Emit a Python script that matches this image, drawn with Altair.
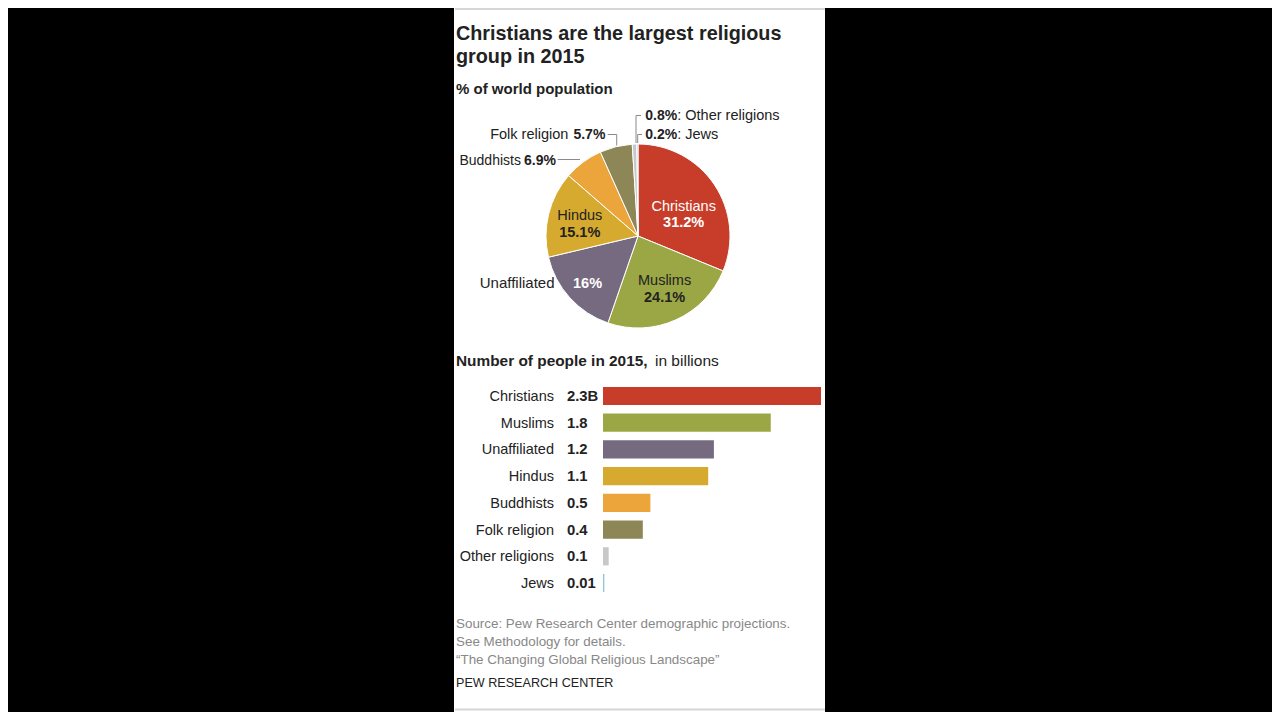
import altair as alt
import pandas as pd

# ---------------- data ----------------
categories = ["Christians", "Muslims", "Unaffiliated", "Hindus", "Buddhists",
              "Folk religion", "Other religions", "Jews"]
shares = [31.2, 24.1, 16.0, 15.1, 6.9, 5.7, 0.8, 0.2]
share_labels = ["31.2%", "24.1%", "16%", "15.1%", "6.9%", "5.7%", "0.8%", "0.2%"]
billions = [2.3, 1.77, 1.17, 1.11, 0.50, 0.42, 0.06, 0.014]
billion_labels = ["2.3B", "1.8", "1.2", "1.1", "0.5", "0.4", "0.1", "0.01"]
colors = ["#c73d29", "#9ba745", "#766a80", "#d6aa2f", "#eca53b", "#8d8757",
          "#c8c8c8", "#8cc4da"]

title_lines = ["Christians are the largest religious", "group in 2015"]
subtitle = "% of world population"
bar_title_bold = "Number of people in 2015,"
bar_title_regular = "in billions"
source_lines = ["Source: Pew Research Center demographic projections.",
                "See Methodology for details.",
                "\u201cThe Changing Global Religious Landscape\u201d"]
credit = "PEW RESEARCH CENTER"

df = pd.DataFrame({
    "cat": categories, "share": shares, "share_label": share_labels,
    "bn": billions, "bn_label": billion_labels, "idx": list(range(len(categories))),
})
one = pd.DataFrame({"a": [0]})

FONT = "Liberation Sans"
CX, CY, R = 630, 228, 92
W, H = 1264, 704

color_enc = alt.Color("cat:N", scale=alt.Scale(domain=categories, range=colors), legend=None)

# ---------------- background panel ----------------
panel = alt.Chart(one).mark_rect(color="white").encode(
    x=alt.value(446), x2=alt.value(817), y=alt.value(0), y2=alt.value(H))
top_rule = alt.Chart(one).mark_rule(color="#d6d6d6", strokeWidth=2).encode(
    x=alt.value(447), x2=alt.value(817), y=alt.value(1))
bottom_rule = alt.Chart(one).mark_rule(color="#d6d6d6", strokeWidth=2).encode(
    x=alt.value(447), x2=alt.value(817), y=alt.value(701.5))

# ---------------- pie ----------------
pie = alt.Chart(df).mark_arc(outerRadius=R, stroke="white", strokeWidth=1).encode(
    x=alt.value(CX), y=alt.value(CY),
    theta=alt.Theta("share:Q", stack=True),
    order=alt.Order("idx:Q"),
    color=color_enc,
)


def pie_label(cat, field, radius, dx, dy, bold=False, align="center", color="#222",
              prefix=None, size=14.5):
    c = alt.Chart(df).transform_window(
        cum="sum(share)", sort=[alt.SortField("idx")]
    ).transform_calculate(mid="datum.cum - datum.share / 2")
    if prefix is not None:
        c = c.transform_calculate(txt=f"'{prefix}' + datum.{field}")
        field = "txt"
    return c.transform_filter(alt.datum.cat == cat).mark_text(
        radius=radius, dx=dx, dy=dy, align=align, baseline="middle",
        fontWeight="bold" if bold else "normal", fontSize=size, font=FONT, color=color,
    ).encode(
        x=alt.value(CX), y=alt.value(CY),
        theta=alt.Theta("mid:Q", scale=alt.Scale(domain=[0, 100]), stack=None),
        text=alt.Text(f"{field}:N"),
    )


pie_labels = [
    pie_label("Christians", "cat", 55, 0, 1.5, color="white"),
    pie_label("Christians", "share_label", 55, 0, 17.5, bold=True, color="white"),
    pie_label("Muslims", "cat", 50, 6, -0.5),
    pie_label("Muslims", "share_label", 50, 6, 16.5, bold=True),
    pie_label("Hindus", "cat", 60, 0, -5.5),
    pie_label("Hindus", "share_label", 60, 0, 11, bold=True),
    pie_label("Unaffiliated", "share_label", 68, 0, 2, bold=True, color="white"),
    pie_label("Unaffiliated", "cat", 68, -33, 1, align="right", size=15),
    pie_label("Buddhists", "share_label", R, -27.3, -1.5, bold=True, align="right", size=14),
    pie_label("Buddhists", "cat", R, -62.3, -1.5, align="right", size=14),
    pie_label("Folk religion", "share_label", R, -10.6, -11.5, bold=True, align="right", size=14),
    pie_label("Folk religion", "cat", R, -47.6, -11.5, align="right"),
    pie_label("Other religions", "share_label", R, 10.8, -28.5, bold=True, align="left", size=14),
    pie_label("Other religions", "cat", R, 42.7, -28.5, align="left", prefix=": "),
    pie_label("Jews", "share_label", R, 7.9, -9.5, bold=True, align="left", size=14),
    pie_label("Jews", "cat", R, 39.8, -9.5, align="left", prefix=": "),
]


# leader lines (annotation decoration)
def seg(x1, y1, x2, y2):
    return alt.Chart(one).mark_rule(color="#8a8a8a", strokeWidth=1).encode(
        x=alt.value(x1), y=alt.value(y1), x2=alt.value(x2), y2=alt.value(y2))


leaders = [
    seg(549.7, 151.5, 572, 151.5),                                   # Buddhists
    seg(599.7, 126.5, 608.7, 126.5), seg(608.7, 126.5, 608.7, 137.5),  # Folk
    seg(628, 107.5, 633, 107.5), seg(628, 107.5, 628, 135),          # Other
    seg(629.7, 126.5, 634, 126.5), seg(629.7, 126.5, 629.7, 135),    # Jews
]

# ---------------- bars ----------------
xs = alt.Scale(domain=[0, 2.3], range=[595, 813])
ys = alt.Scale(domain=categories, range=[374.6, 588.4], paddingInner=0.32, paddingOuter=0.16)

bars = alt.Chart(df).mark_bar().encode(
    x=alt.X("bn:Q", scale=xs, axis=None),
    y=alt.Y("cat:N", scale=ys, axis=None),
    color=color_enc,
)
bar_names = alt.Chart(df).mark_text(align="right", baseline="middle", fontSize=14.5,
                                    font=FONT, color="#222", dy=1).encode(
    x=alt.value(546), y=alt.Y("cat:N", scale=ys, axis=None), text="cat:N")
bar_vals = alt.Chart(df).mark_text(align="left", baseline="middle", fontSize=14.8,
                                   fontWeight="bold", font=FONT, color="#222", dy=1).encode(
    x=alt.value(559), y=alt.Y("cat:N", scale=ys, axis=None), text="bn_label:N")


# ---------------- static text ----------------
def label(txt, x, y, size, bold=False, color="#222", line_height=None):
    kw = {}
    if line_height is not None:
        kw["lineHeight"] = line_height
    return alt.Chart(one).mark_text(align="left", baseline="alphabetic", fontSize=size,
                                    fontWeight="bold" if bold else "normal",
                                    font=FONT, color=color, **kw).encode(
        x=alt.value(x), y=alt.value(y), text=alt.value(txt))


texts = [
    label(title_lines, 448, 31.5, 19.8, bold=True, color="#222", line_height=23.5),
    label(subtitle, 448, 86.3, 15, bold=True),
    label(bar_title_bold, 448, 358, 15.4, bold=True),
    label(bar_title_regular, 647, 358, 15.5),
    label(source_lines, 448, 620, 13.4, color="#888", line_height=18),
    label(credit, 448, 679, 12.6, color="#222"),
]

chart = alt.layer(
    panel, top_rule, bottom_rule, pie, *leaders, *pie_labels,
    bars, bar_names, bar_vals, *texts,
).resolve_scale(theta="independent").properties(
    width=W, height=H, background="black", padding=0,
    autosize=alt.AutoSizeParams(type="none"),
).configure_view(stroke=None)

chart.save("out.html", embed_options={"renderer": "svg", "actions": False})
